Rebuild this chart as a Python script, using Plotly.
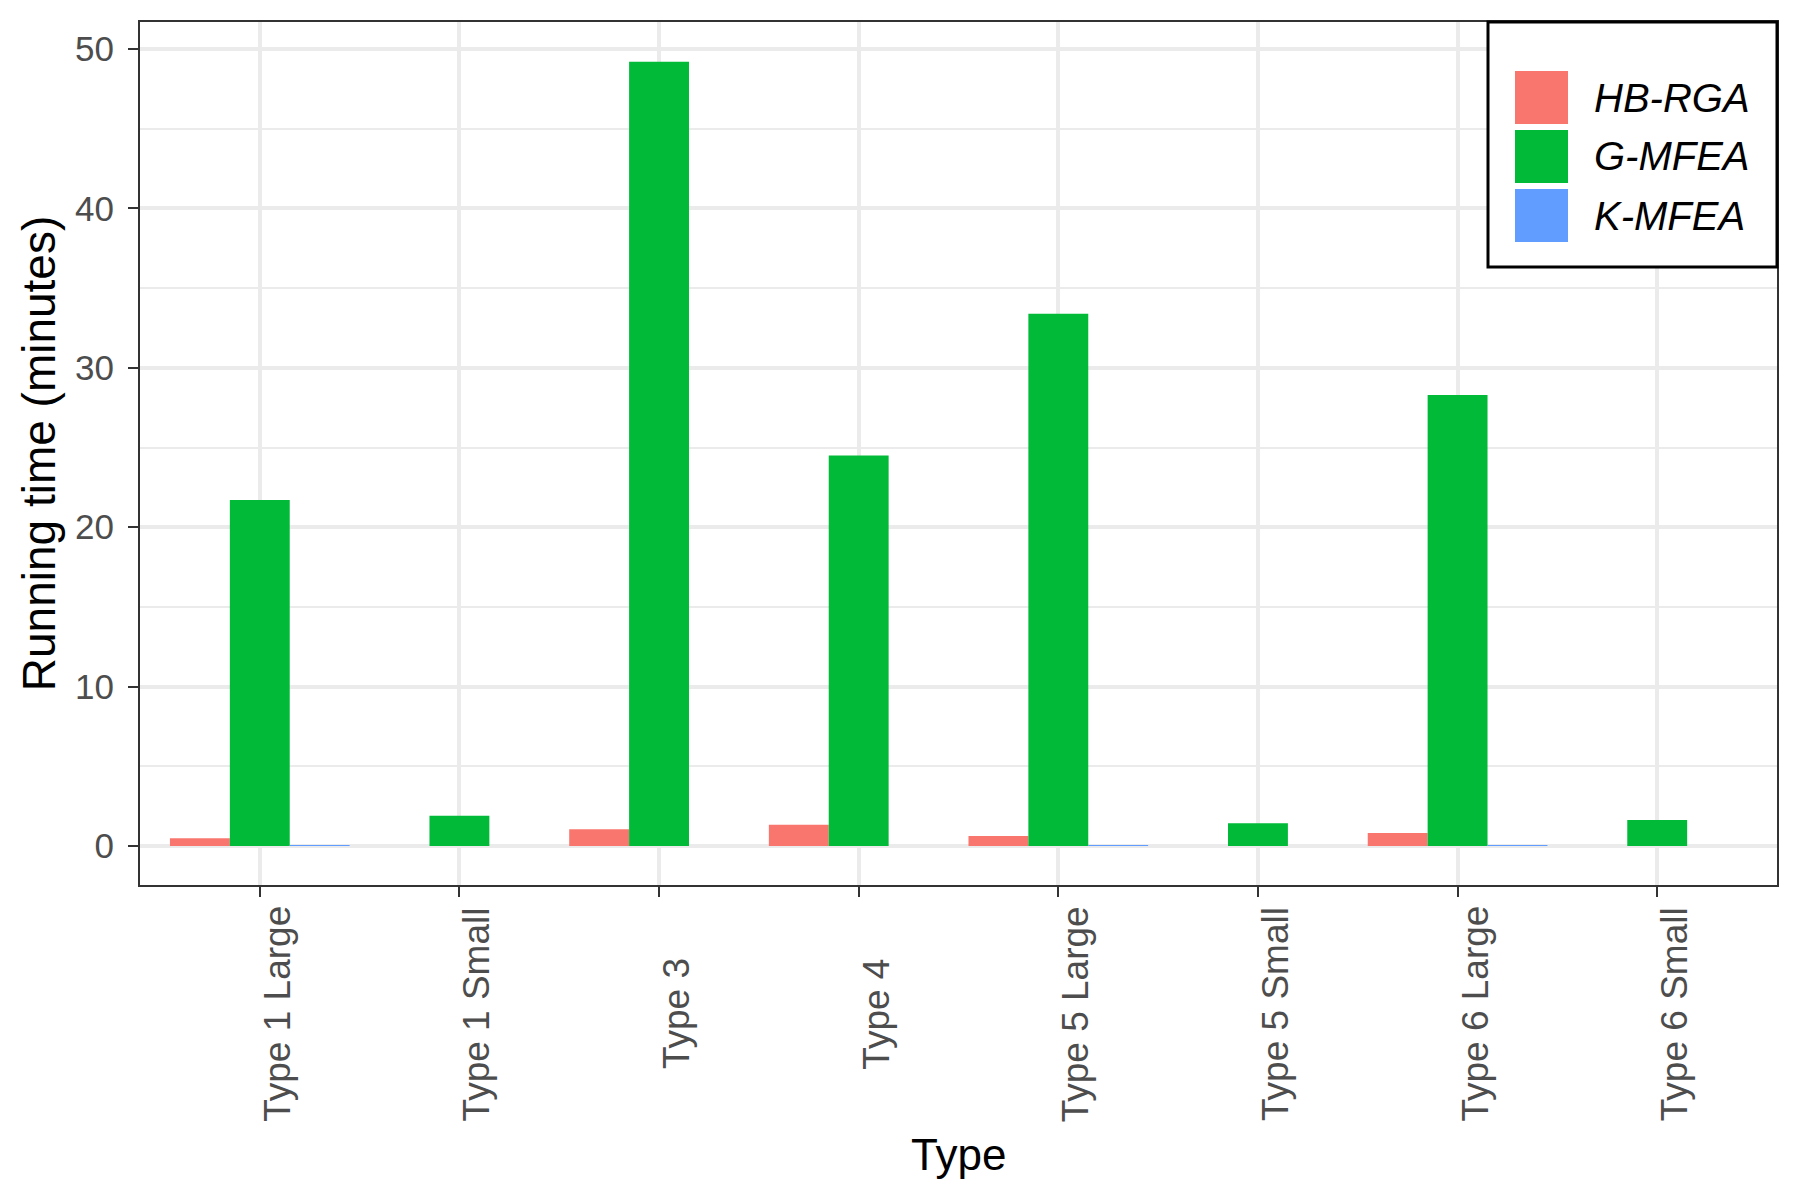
import plotly.graph_objects as go

categories = ["Type 1 Large", "Type 1 Small", "Type 3", "Type 4",
              "Type 5 Large", "Type 5 Small", "Type 6 Large", "Type 6 Small"]
series_names = ["HB-RGA", "G-MFEA", "K-MFEA"]
hb_rga = [0.48, None, 1.05, 1.33, 0.62, None, 0.82, None]
g_mfea = [21.7, 1.9, 49.2, 24.5, 33.4, 1.43, 28.3, 1.63]
k_mfea = [0.05, None, None, None, 0.05, None, 0.05, None]
colors = ["#F8766D", "#00BA38", "#619CFF"]
y_ticks = [0, 10, 20, 30, 40, 50]

# page has 8px body margin; figure sized to fit inside the window
OFF = 8
W, H = 1784, 1184
# panel edges in page pixels
L, R, T, B = 140, 1777, 22, 885

fig = go.Figure()
for name, vals, col in zip(series_names, [hb_rga, g_mfea, k_mfea], colors):
    fig.add_trace(go.Bar(x=categories, y=vals, name=name, marker_color=col,
                         marker_line_width=0, showlegend=False))

def xp(px):
    return (px - L) / (R - L)

def yp(py):
    return (B - py) / (B - T)

# custom legend (ggplot style)
shapes = [dict(type="rect", xref="paper", yref="paper",
               x0=xp(1488), x1=xp(1777), y0=yp(267), y1=yp(22),
               line=dict(color="black", width=3), fillcolor="white", layer="above")]
annotations = []
sw_tops = [71, 130, 189]
for name, col, top in zip(series_names, colors, sw_tops):
    shapes.append(dict(type="rect", xref="paper", yref="paper",
                       x0=xp(1515), x1=xp(1568), y0=yp(top + 53), y1=yp(top),
                       line=dict(width=0), fillcolor=col, layer="above"))
    annotations.append(dict(xref="paper", yref="paper", x=xp(1592), y=yp(top + 26.5),
                            text="<i>%s</i>" % name, showarrow=False, xanchor="left",
                            yanchor="middle",
                            font=dict(family="Liberation Sans, Arial", size=40, color="black")))

# x tick labels: rotated and centred (ggplot hjust=0.5)
for cat in categories:
    annotations.append(dict(xref="x", yref="paper", x=cat, y=yp(1014),
                            text=cat, showarrow=False, textangle=-90,
                            xanchor="center", yanchor="middle", xshift=17,
                            font=dict(family="Liberation Sans, Arial", size=37, color="#4D4D4D")))
# x axis title
annotations.append(dict(xref="paper", yref="paper", x=0.5, y=yp(1154),
                        text="Type", showarrow=False, xanchor="center", yanchor="middle",
                        font=dict(family="Liberation Sans, Arial", size=44, color="black")))

fig.update_layout(
    width=W, height=H,
    margin=dict(l=L - OFF, r=W - (R - OFF), t=T - OFF, b=H - (B - OFF)),
    paper_bgcolor="white", plot_bgcolor="white",
    barmode="group", bargap=0.1, bargroupgap=0,
    font=dict(family="Liberation Sans, Arial", color="#4D4D4D"),
    shapes=shapes, annotations=annotations,
    showlegend=False,
    xaxis=dict(
        type="category", range=[-0.6, 7.6],
        showgrid=True, gridcolor="#EBEBEB", gridwidth=3.5,
        showline=True, linecolor="#333333", linewidth=2, mirror=True,
        ticks="outside", ticklen=10, tickwidth=2, tickcolor="#333333",
        showticklabels=False,
        zeroline=False,
    ),
    yaxis=dict(
        range=[-2.45, 51.7], tickvals=y_ticks,
        showgrid=True, gridcolor="#EBEBEB", gridwidth=3.5,
        minor=dict(dtick=5, tick0=0, showgrid=True, gridcolor="#EBEBEB", gridwidth=2),
        showline=True, linecolor="#333333", linewidth=2, mirror=True,
        ticks="outside", ticklen=10, tickwidth=2, tickcolor="#333333",
        tickfont=dict(size=35, color="#4D4D4D"),
        ticklabelstandoff=7,
        title=dict(text="Running time (minutes)", font=dict(size=46, color="black"), standoff=5),
        zeroline=False,
    ),
)

fig.write_html("out.html")
